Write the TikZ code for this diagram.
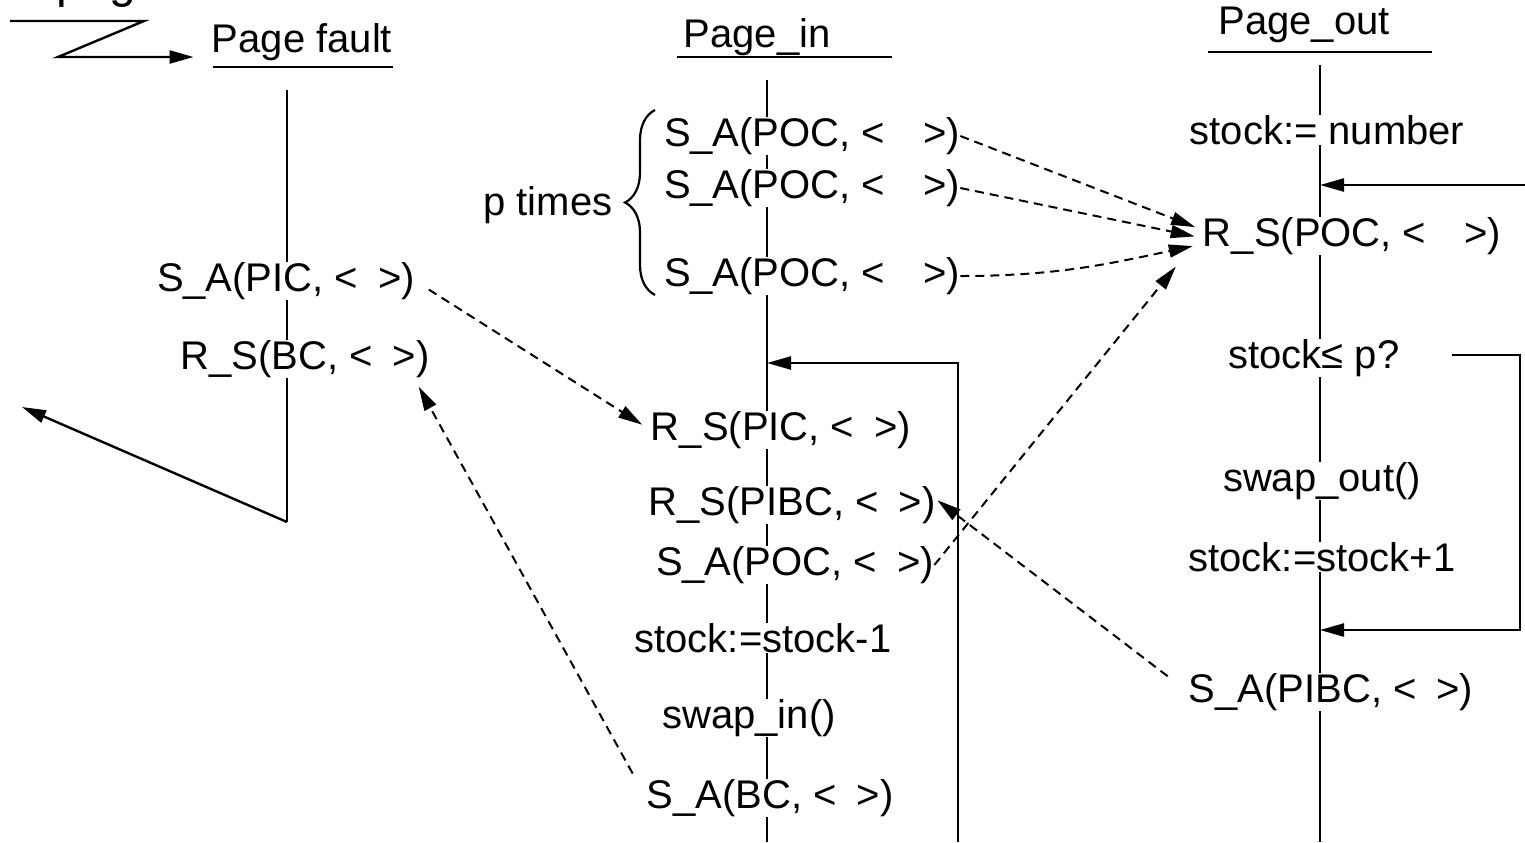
\documentclass[tikz,border=0pt]{standalone}
\usepackage{fontspec}
\setmainfont{Liberation Sans}
\usetikzlibrary{arrows.meta,decorations.pathreplacing,calc}

\tikzset{
  lbl/.style={font=\fontsize{20pt}{24pt}\selectfont, fill=white, inner sep=0pt},
  life/.style={line width=1.1pt},
  ctrl/.style={line width=1.2pt, -{Triangle[length=12pt,width=6.5pt]}},
  msg/.style={line width=1pt, dash pattern=on 4.5pt off 3pt, -{Triangle[length=12pt,width=6.5pt]}},
}
\newcommand{\nomsg}{<\hspace{0.5em}>}
\newcommand{\nomsgw}{<\hspace{0.95em}>}

\begin{document}
\begin{tikzpicture}[x=0.5pt,y=-0.5pt]
\useasboundingbox (0,0) rectangle (1525,842);

% lifelines
\draw[life] (287,90) -- (287,522);
\draw[life] (767,80) -- (767,842);
\draw[life] (1320,65) -- (1320,842);

% headings
\node[lbl, anchor=base west, font=\fontsize{24pt}{28pt}\selectfont] (cause) at (-8,-3) {se page fault};
\node[lbl] (pfhead) at (302,42) {Page fault};
\draw[life] (213,67) -- (393,67);
\node[lbl] (pihead) at (757,37) {Page\_in};
\draw[life] (677,57) -- (892,57);
\node[lbl] (pohead) at (1304,25) {Page\_out};
\draw[life] (1208,52) -- (1432,52);

% Page fault
\node[lbl] (sapic) at (286,281) {S\_A(PIC, \nomsg)};
\node[lbl] (rsbc) at (305,359) {R\_S(BC, \nomsg)};
\coordinate (trap) at (10,21);
\coordinate (pfend) at (287,522);
\coordinate (resume) at (22,407);
\draw[ctrl, shorten >=9pt] (trap) -- (144,21) -- (58,57) -- (pfhead.west |- 0,57);
\draw[ctrl] (pfend) -- (resume);

% Page_in
\node[lbl] (sapoc1) at (812,136) {S\_A(POC, \nomsgw)};
\node[lbl] (sapoc2) at (812,188) {S\_A(POC, \nomsgw)};
\node[lbl] (sapoc3) at (812,276) {S\_A(POC, \nomsgw)};
\draw[decorate, decoration={brace, amplitude=15pt}, line width=1.1pt] (655,295) -- (655,110);
\node[lbl] (ptimes) at (548,205) {p times};
\node[lbl] (rspic) at (781,430) {R\_S(PIC, \nomsg)};
\node[lbl] (rspibc) at (792,505) {R\_S(PIBC, \nomsg)};
\node[lbl] (sapoc4) at (795,565) {S\_A(POC, \nomsg)};
\node[lbl] (stockdec) at (763,638) {stock:=stock-1};
\node[lbl] (swapin) at (749,718) {swap\_in()};
\node[lbl] (sabc) at (770,798) {S\_A(BC, \nomsg)};
\coordinate (inloop) at (958,842);
\coordinate (inret) at (767,363);
\draw[ctrl] (inloop) |- (inret);

% Page_out
\node[lbl] (stockinit) at (1327,130) {stock:= number};
\node[lbl] (rspoc) at (1352,236) {R\_S(POC, \nomsgw)};
\node[lbl] (stockle) at (1314,358) {stock≤ p?};
\node[lbl] (swapout) at (1322,481) {swap\_out()};
\node[lbl] (stockinc) at (1322,557) {stock:=stock+1};
\node[lbl] (sapibc) at (1331,692) {S\_A(PIBC, \nomsg)};
\coordinate (outin) at (1525,185);
\coordinate (outret) at (1320,185);
\draw[ctrl] (outin) -- (outret);
\coordinate (leturn) at (1520,355);
\coordinate (outloop) at (1320,630);
\draw[ctrl] ([xshift=26pt,yshift=1.5pt]stockle.east) -- (leturn) |- (outloop);

% messages
\draw[msg, shorten <=8pt, shorten >=5pt] (sapic.east) -- (rspic.west);
\draw[msg, shorten <=14pt, shorten >=5pt] (sabc.west) -- ([xshift=-8pt]rsbc.south east);
\draw[msg, shorten >=4pt] (sapoc1.east) -- ([yshift=3pt]rspoc.west);
\draw[msg, shorten >=4pt] (sapoc2.east) -- ([yshift=-1pt]rspoc.west);
\draw[msg, shorten >=5pt] (sapoc3.east) to[out=0, in=192] ([yshift=-4pt]rspoc.west);
\draw[msg, shorten >=3pt] (sapoc4.east) -- ([xshift=-11.5pt,yshift=-13pt]rspoc.west);
\draw[msg, shorten <=13pt, shorten >=1pt] (sapibc.west) -- ([yshift=3pt]rspibc.east);
\end{tikzpicture}
\end{document}
